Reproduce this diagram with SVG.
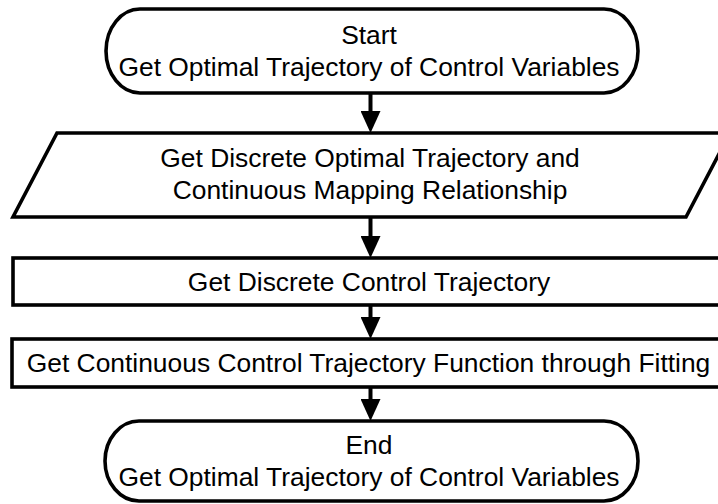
<svg xmlns="http://www.w3.org/2000/svg" width="718" height="504" viewBox="0 0 718 504">
  <style>
    .shape { fill: #ffffff; stroke: #000000; stroke-width: 3.6; }
    .label { font-family: "Liberation Sans", Arial, sans-serif; font-size: 26.4px; fill: #000000; text-anchor: middle; }
    .flow { stroke: #000000; stroke-width: 4; fill: none; }
  </style>
  <defs>
    <marker id="arrowhead" markerUnits="userSpaceOnUse" viewBox="0 0 22 20" markerWidth="22" markerHeight="20" refX="10" refY="10" orient="auto">
      <path d="M0,0 L22,10 L0,20 Z" fill="#000000"/>
    </marker>
  </defs>

  <rect width="718" height="504" fill="#ffffff"/>

  <!-- connectors -->
  <g id="connectors">
    <line class="flow" x1="370.5" y1="93" x2="370.5" y2="121" marker-end="url(#arrowhead)"/>
    <line class="flow" x1="370.5" y1="217" x2="370.5" y2="246" marker-end="url(#arrowhead)"/>
    <line class="flow" x1="370.5" y1="305" x2="370.5" y2="327" marker-end="url(#arrowhead)"/>
    <line class="flow" x1="370.5" y1="387" x2="370.5" y2="409" marker-end="url(#arrowhead)"/>
  </g>

  <!-- start terminator -->
  <g id="start">
    <rect class="shape" x="106" y="9" width="532" height="84" rx="34" ry="42"/>
    <text class="label" x="369" y="44">Start</text>
    <text class="label" x="369" y="76">Get Optimal Trajectory of Control Variables</text>
  </g>

  <!-- input / output step -->
  <g id="discrete-trajectory">
    <polygon class="shape" points="57,133 730,133 686,217 13,217"/>
    <text class="label" x="370" y="167">Get Discrete Optimal Trajectory and</text>
    <text class="label" x="370" y="199">Continuous Mapping Relationship</text>
  </g>

  <!-- process: discrete control -->
  <g id="discrete-control">
    <rect class="shape" x="13" y="258" width="720" height="47"/>
    <text class="label" x="369" y="291">Get Discrete Control Trajectory</text>
  </g>

  <!-- process: fitting -->
  <g id="continuous-control">
    <rect class="shape" x="12" y="339" width="720" height="48"/>
    <text class="label" x="368.5" y="372">Get Continuous Control Trajectory Function through Fitting</text>
  </g>

  <!-- end terminator -->
  <g id="end">
    <rect class="shape" x="105" y="421" width="533" height="80" rx="34" ry="40"/>
    <text class="label" x="369" y="454">End</text>
    <text class="label" x="369" y="486">Get Optimal Trajectory of Control Variables</text>
  </g>
</svg>
